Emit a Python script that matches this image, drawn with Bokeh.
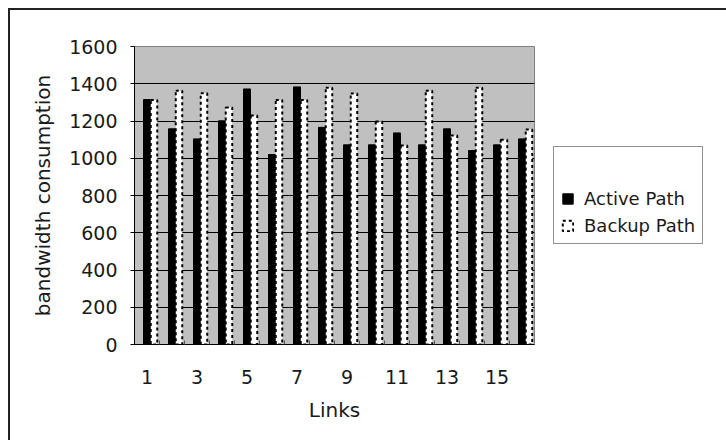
from bokeh.plotting import figure
from bokeh.models import Range1d, FixedTicker, ColumnDataSource, Legend, LegendItem
from bokeh.transform import dodge
from bokeh.embed import file_html
from bokeh.resources import INLINE

links = list(range(1, 17))
active_path = [1315, 1158, 1104, 1201, 1372, 1020, 1383, 1166, 1072, 1072, 1136, 1072, 1158, 1041, 1072, 1104]
backup_path = [1313, 1363, 1349, 1272, 1229, 1313, 1313, 1379, 1347, 1197, 1068, 1363, 1122, 1379, 1100, 1154]
x_tick_values = [1, 3, 5, 7, 9, 11, 13, 15]
y_tick_values = [0, 200, 400, 600, 800, 1000, 1200, 1400, 1600]

FONT = "DejaVu Sans"
TXT = "#1a1a1a"

src = ColumnDataSource(dict(link=links, active=active_path, backup=backup_path))

p = figure(frame_width=400, frame_height=298, output_backend="svg", toolbar_location=None,
           x_range=Range1d(0.5, 16.5), y_range=Range1d(0, 1600),
           min_border_left=124, min_border_right=0, min_border_top=36, min_border_bottom=96)
p.styles = {"margin-left": "8px", "margin-top": "8px",
            "border-left": "2px solid #222", "border-top": "2px solid #222"}

p.background_fill_color = "#C0C0C0"
p.border_fill_color = "white"
p.outline_line_color = "#808080"
p.outline_line_width = 1

r_active = p.vbar(x=dodge("link", 0.0, range=p.x_range), top="active", width=0.28, source=src,
                  fill_color="black", line_color="black", line_width=1)
r_backup = p.vbar(x=dodge("link", 0.28, range=p.x_range), top="backup", width=0.26, source=src,
                  fill_color="white", line_color="black", line_width=2, line_dash="3 3")

p.xgrid.visible = False
p.ygrid.ticker = FixedTicker(ticks=y_tick_values)
p.ygrid.grid_line_color = "black"
p.ygrid.grid_line_width = 1

# category boundary ticks (inside), labels on odd links
p.xaxis.ticker = FixedTicker(ticks=x_tick_values, minor_ticks=[k + 0.5 for k in links[:-1]])
p.xaxis.major_label_overrides = {v: str(v) for v in x_tick_values}
p.xaxis.major_tick_out = 0
p.xaxis.major_tick_in = 0
p.xaxis.minor_tick_in = 4
p.xaxis.minor_tick_out = 0
p.xaxis.minor_tick_line_color = "#555555"
p.xaxis.major_label_standoff = 25
p.xaxis.axis_label = "Links"
p.xaxis.axis_label_standoff = 11

p.yaxis.ticker = FixedTicker(ticks=y_tick_values)
p.yaxis.major_tick_out = 4
p.yaxis.major_tick_in = 0
p.yaxis.minor_tick_line_color = None
p.yaxis.major_label_standoff = 13
p.yaxis.axis_label = "bandwidth consumption"
p.yaxis.axis_label_standoff = 11

for ax in (p.xaxis[0], p.yaxis[0]):
    ax.axis_line_color = "black"
    ax.axis_line_width = 1
    ax.major_tick_line_color = "black"
    ax.major_label_text_font = FONT
    ax.major_label_text_font_size = "19px"
    ax.major_label_text_color = TXT
    ax.axis_label_text_font = FONT
    ax.axis_label_text_font_size = "20px"
    ax.axis_label_text_font_style = "normal"
    ax.axis_label_text_color = TXT

legend = Legend(items=[LegendItem(label="Active Path", renderers=[r_active]),
                       LegendItem(label="Backup Path", renderers=[r_backup])],
                location="left", orientation="vertical")
legend.title = " "
legend.title_text_font_size = "20px"
legend.title_standoff = 11
legend.padding = 7
legend.spacing = 6
legend.margin = 19
legend.glyph_width = 13
legend.glyph_height = 13
legend.label_height = 20
legend.label_standoff = 10
legend.label_text_font = FONT
legend.label_text_font_size = "18px"
legend.label_text_color = TXT
legend.border_line_color = "#222"
legend.border_line_width = 1
legend.background_fill_color = "white"
legend.background_fill_alpha = 1
p.add_layout(legend, "right")

open("out.html", "w").write(file_html(p, INLINE))
